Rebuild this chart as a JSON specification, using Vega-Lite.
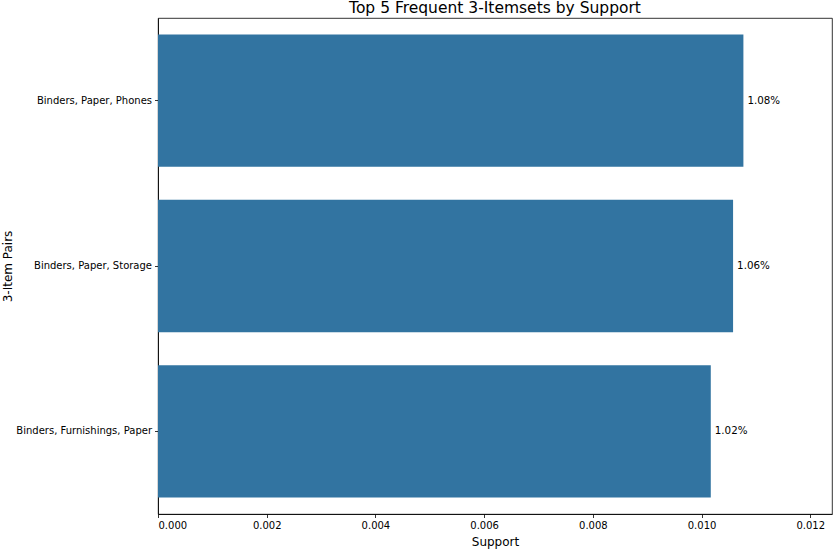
{
  "$schema": "https://vega.github.io/schema/vega-lite/v6.json",
  "width": 674,
  "height": 496,
  "autosize": "none",
  "padding": {"left": 158, "top": 18, "right": 5, "bottom": 37},
  "background": "white",
  "title": {
    "text": "Top 5 Frequent 3-Itemsets by Support",
    "fontSize": 15.5,
    "fontWeight": "normal",
    "font": "DejaVu Sans",
    "color": "#000000",
    "anchor": "middle",
    "offset": 2
  },
  "data": {
    "values": [
      {"itemset": "Binders, Paper, Phones", "support": 0.01077},
      {"itemset": "Binders, Paper, Storage", "support": 0.01058},
      {"itemset": "Binders, Furnishings, Paper", "support": 0.01017}
    ]
  },
  "encoding": {
    "y": {
      "field": "itemset",
      "type": "nominal",
      "sort": null,
      "title": "3-Item Pairs",
      "scale": {"paddingInner": 0.2, "paddingOuter": 0.1},
      "axis": {
        "labelFontSize": 10,
        "labelPadding": 3,
        "tickSize": 3.5,
        "titleFontSize": 12,
        "titleFontWeight": "normal",
        "titleAngle": -90,
        "titleX": -151,
        "titleY": 248,
        "titleAlign": "center",
        "titleBaseline": "middle"
      }
    },
    "x": {
      "field": "support",
      "type": "quantitative",
      "title": "Support",
      "scale": {"domain": [0, 0.0124], "nice": false},
      "axis": {
        "values": [0, 0.002, 0.004, 0.006, 0.008, 0.01, 0.012],
        "format": ".3f",
        "labelFontSize": 10,
        "labelPadding": 3,
        "tickSize": 3.5,
        "grid": false,
        "titleFontSize": 12,
        "titleFontWeight": "normal",
        "titleY": 27,
        "titleBaseline": "middle"
      }
    }
  },
  "layer": [
    {
      "mark": {"type": "bar", "color": "#3274a1"}
    },
    {
      "mark": {
        "type": "text",
        "align": "left",
        "baseline": "middle",
        "dx": 4,
        "fontSize": 10.3,
        "color": "#000000",
        "font": "DejaVu Sans"
      },
      "encoding": {
        "text": {"field": "support", "type": "quantitative", "format": ".2%"}
      }
    }
  ],
  "config": {
    "font": "DejaVu Sans",
    "view": {"stroke": "#000000", "strokeWidth": 0.8},
    "axis": {
      "domainColor": "#000000",
      "domainWidth": 0.8,
      "tickColor": "#000000",
      "tickWidth": 0.8,
      "labelColor": "#000000",
      "titleColor": "#000000",
      "labelFont": "DejaVu Sans",
      "titleFont": "DejaVu Sans"
    }
  }
}
